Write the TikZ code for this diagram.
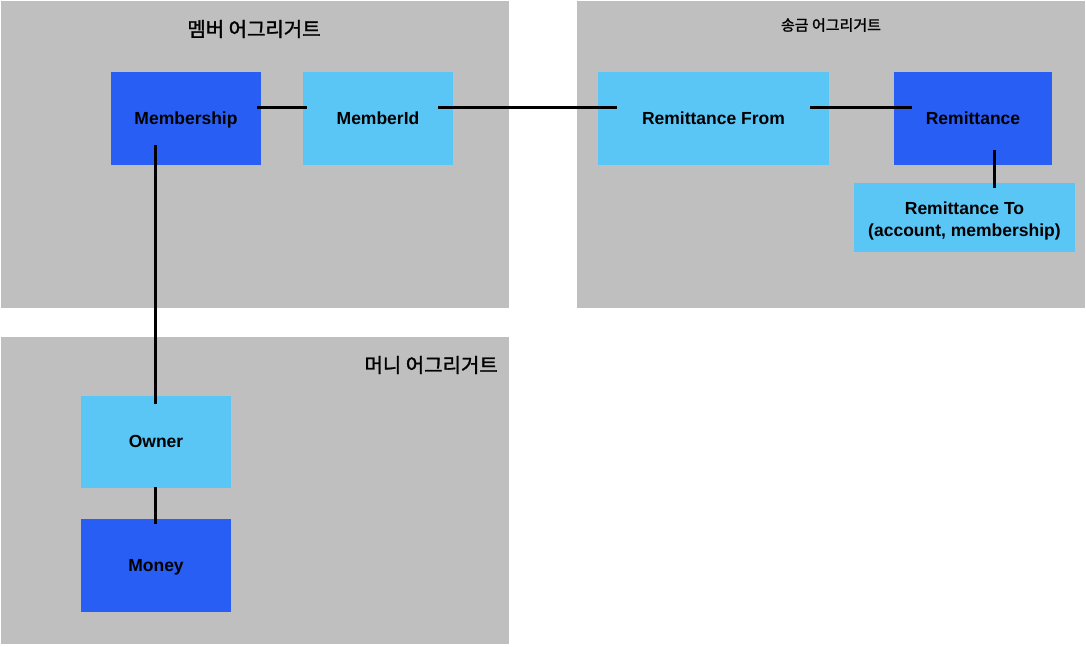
\documentclass[tikz,border=0pt]{standalone}
\usepackage{fontspec}
\setmainfont{Liberation Sans}
\newfontfamily\krfont[FakeBold=1.5]{Noto Sans CJK KR}
\usetikzlibrary{calc}
\definecolor{grp}{HTML}{BFBFBF}
\definecolor{darkb}{HTML}{295EF5}
\definecolor{lightb}{HTML}{5AC6F6}
\tikzset{
  boxfont/.style={font=\fontsize{17.5}{22}\selectfont\bfseries},
  grpbox/.style={fill=grp, draw=none, inner sep=0pt},
  entbox/.style={fill=darkb, draw=none, inner sep=0pt, boxfont, text height=12.6pt, text depth=0pt},
  vobox/.style={fill=lightb, draw=none, inner sep=0pt, boxfont, text height=12.6pt, text depth=0pt},
  twoline/.style={inner sep=0pt, boxfont, align=center},
  conn/.style={line width=3pt, black},
  ttl/.style={inner sep=0pt, font=\krfont\fontsize{20}{24}\selectfont},
  ttlsmall/.style={inner sep=0pt, font=\krfont\fontsize{15}{18}\selectfont}
}
\begin{document}
\begin{tikzpicture}[x=1pt,y=-1pt]
\useasboundingbox (0,0) rectangle (1086,646);
\fill[white] (0,0) rectangle (1086,646);
% groups
\node[grpbox, minimum width=508pt, minimum height=307pt] (g1) at (255,154.5) {};
\node[grpbox, minimum width=508pt, minimum height=307pt] (g2) at (831,154.5) {};
\node[grpbox, minimum width=508pt, minimum height=307pt] (g3) at (255,490.5) {};
\node[ttl] (t1) at (254,29) {멤버 어그리거트};
\node[ttlsmall] (t2) at (831,25) {송금 어그리거트};
\node[ttl, anchor=east] (t3) at (498,365) {머니 어그리거트};
% boxes
\node[entbox, minimum width=150pt, minimum height=93pt] (ms) at (186,118) {Membership};
\node[vobox, minimum width=150pt, minimum height=93pt] (mid) at (378,118) {MemberId};
\node[vobox, minimum width=231pt, minimum height=93pt] (rf) at (713.5,118) {Remittance From};
\node[entbox, minimum width=158pt, minimum height=93pt] (rm) at (973,118) {Remittance};
\node[fill=lightb, draw=none, inner sep=0pt, minimum width=221pt, minimum height=69pt] (rt) at (964.5,217.5) {};
\node[twoline] (rttext) at ($(rt.center)+(0,3)$) {Remittance To\\(account, membership)};
\node[vobox, minimum width=150pt, minimum height=92pt] (ow) at (156,441.5) {Owner};
\node[entbox, minimum width=150pt, minimum height=93pt] (mo) at (156,565) {Money};
% connectors
\draw[conn] ($(ms.east)+(-4,-11)$) -- ($(mid.west)+(4,-11)$);
\draw[conn] ($(mid.east)+(-15,-11)$) -- ($(rf.west)+(19,-11)$);
\draw[conn] ($(rf.east)+(-19,-11)$) -- ($(rm.west)+(18,-11)$);
\draw[conn] ($(rm.south)+(21,-14.5)$) -- ($(rt.north)+(29.5,5)$);
\draw[conn] ($(ms.south)+(-31,-19.5)$) -- ($(ow.north)+(-1,8.5)$);
\draw[conn] ($(ow.south)+(-1,-0.5)$) -- ($(mo.north)+(-1,5.5)$);
\end{tikzpicture}
\end{document}
